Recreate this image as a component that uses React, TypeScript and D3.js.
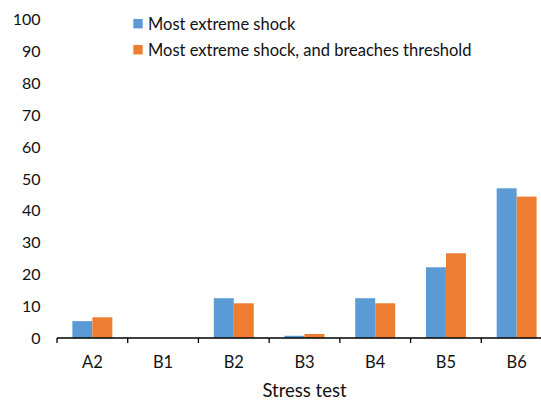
import React from "react";
import * as d3 from "d3";

const categories = ["A2", "B1", "B2", "B3", "B4", "B5", "B6"];
const seriesNames = ["Most extreme shock", "Most extreme shock, and breaches threshold"];
const mostExtreme = [5.3, 0, 12.5, 0.7, 12.5, 22.2, 47.0];
const breachesThreshold = [6.5, 0, 10.9, 1.25, 10.9, 26.6, 44.4];
const yTicks = [0, 10, 20, 30, 40, 50, 60, 70, 80, 90, 100];
const colors = ["#5B9BD5", "#ED7D31"];
const xTitle = "Stress test";

const W = 541;
const H = 400;
const FONT = "Lato, 'Open Sans', sans-serif";

export default function App() {
  const x = d3.scaleBand<string>().domain(categories).range([57, 552]).padding(0);
  const y = d3.scaleLinear().domain([0, 100]).range([338, 19.5]);
  const bw = x.bandwidth();
  const inner = d3.scaleBand<number>().domain([0, 1]).range([0, bw]).paddingInner(0).paddingOuter(0.77);
  const series = [mostExtreme, breachesThreshold];

  return (
    <svg width={W} height={H} style={{ position: "absolute", left: 0, top: 0, background: "#fff" }} fontFamily={FONT}>
      {categories.map((c, i) =>
        series.map((s, k) => (
          <rect
            key={c + k}
            x={(x(c) as number) + (inner(k) as number)}
            y={y(s[i])}
            width={inner.bandwidth()}
            height={y(0) - y(s[i])}
            fill={colors[k]}
          />
        ))
      )}
      <line x1={57} x2={552} y1={y(0)} y2={y(0)} stroke="#000" strokeWidth={1.3} />
      {categories.concat(["_end"]).map((c, i) => {
        const xx = 57 + i * bw;
        return <line key={"t" + i} x1={xx} x2={xx} y1={y(0)} y2={y(0) + 5} stroke="#000" strokeWidth={1.3} />;
      })}
      {yTicks.map((t) => (
        <text key={"y" + t} x={40.5} y={y(t) + 5.8} textAnchor="end" fontSize={16} fill="#111">
          {t}
        </text>
      ))}
      {categories.map((c) => (
        <text key={"x" + c} x={(x(c) as number) + bw / 2} y={368} textAnchor="middle" fontSize={16.5} fill="#111">
          {c}
        </text>
      ))}
      <text x={304.5} y={397} textAnchor="middle" fontSize={18.5} fill="#111">
        {xTitle}
      </text>
      {seriesNames.map((n, k) => (
        <g key={"l" + k}>
          <rect x={133.3} y={19 + k * 26} width={9.4} height={9.4} fill={colors[k]} />
          <text x={148} y={29.5 + k * 26} fontSize={16.5} fill="#111">
            {n}
          </text>
        </g>
      ))}
    </svg>
  );
}
